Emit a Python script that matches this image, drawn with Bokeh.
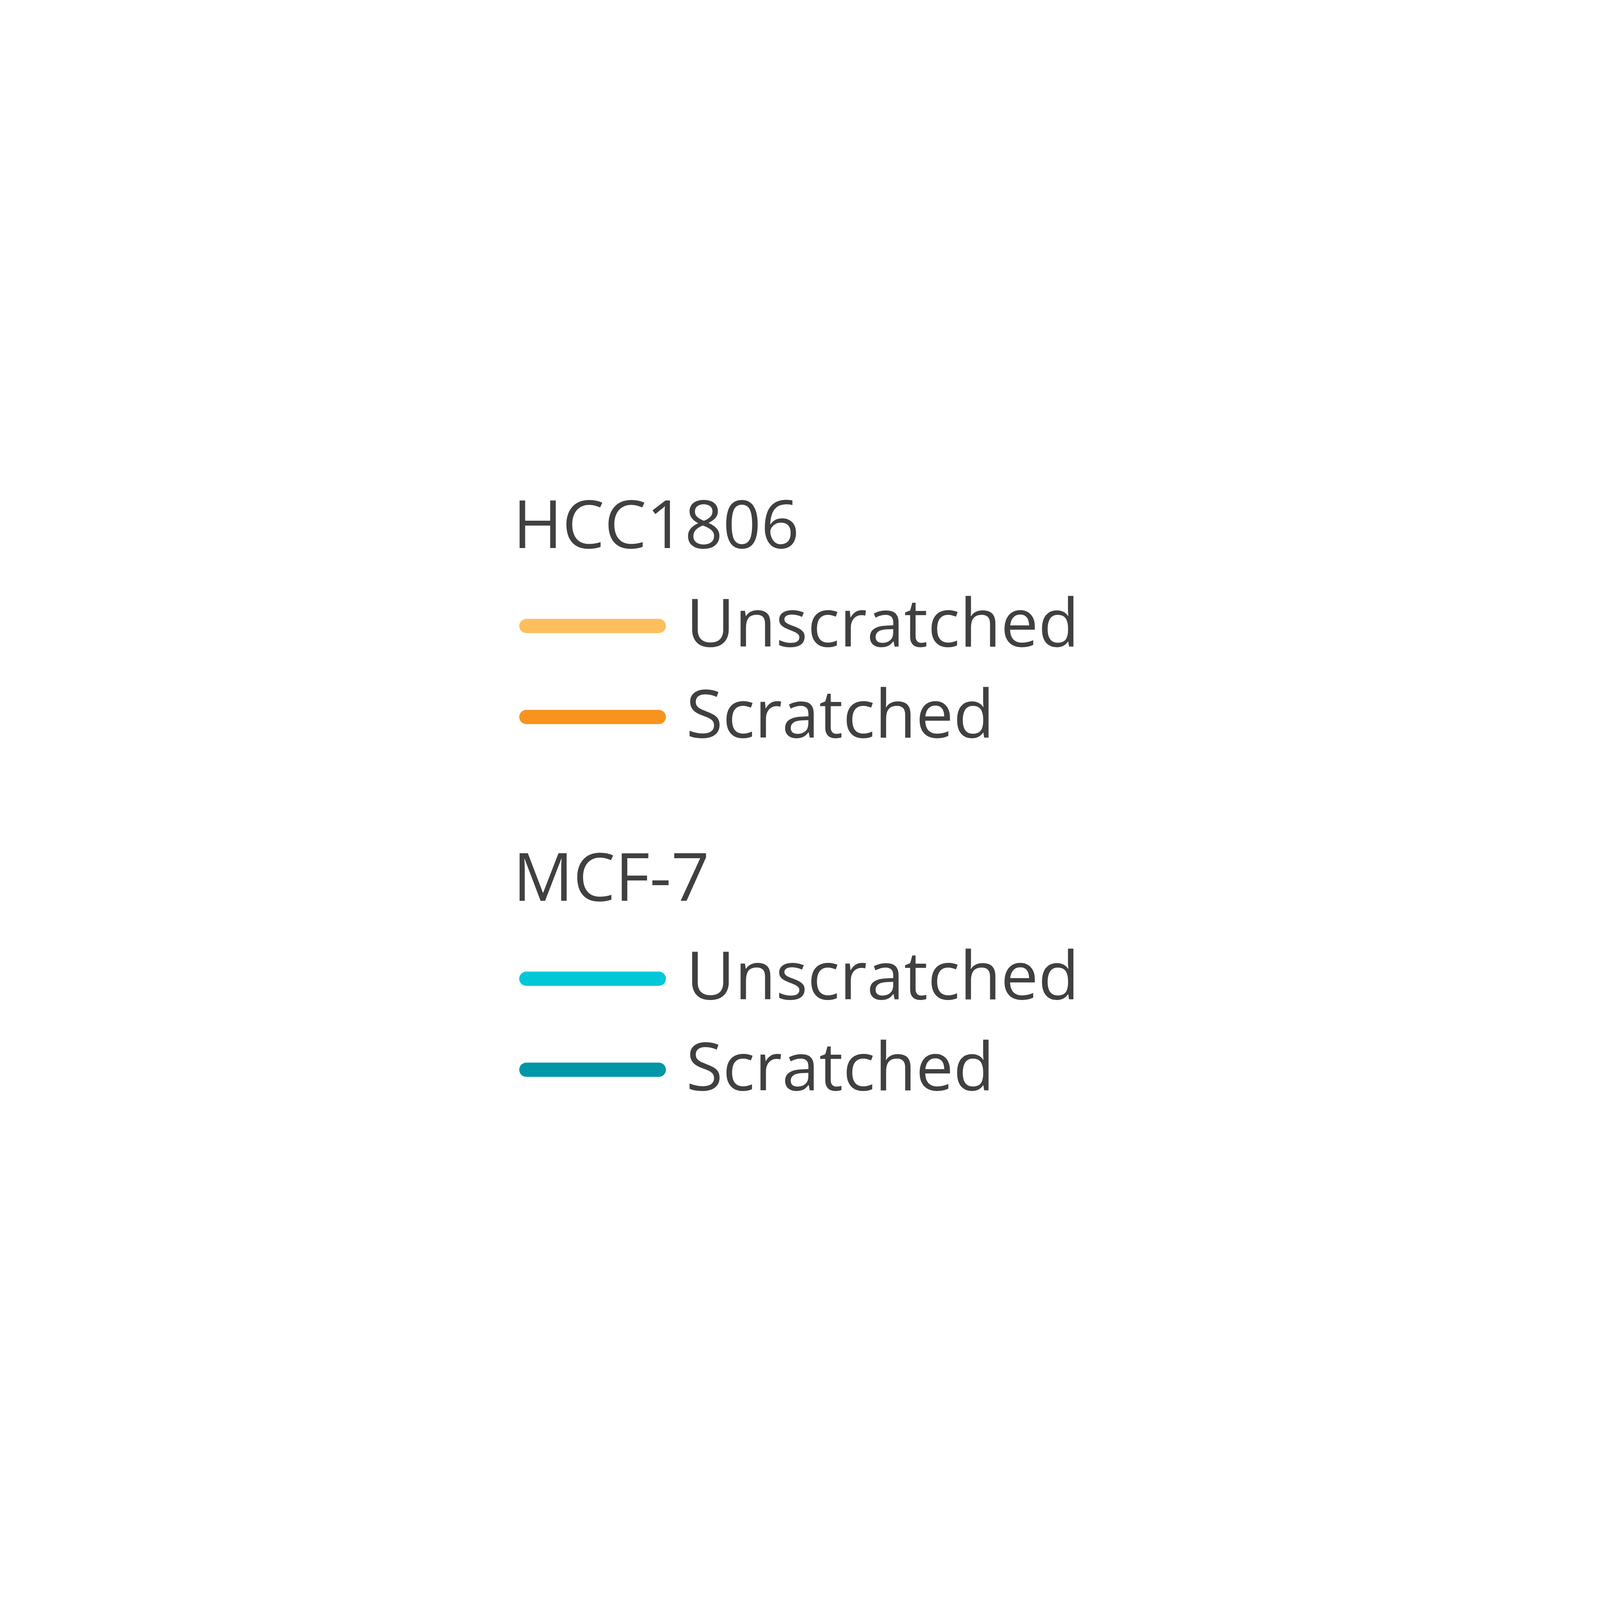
from bokeh.plotting import figure
from bokeh.models import Range1d, ColumnDataSource
from bokeh.core.properties import value
from bokeh.embed import file_html
from bokeh.resources import INLINE

# ---- data ----
groups = ["HCC1806", "MCF-7"]
conditions = ["Unscratched", "Scratched"]
group_colors = [["#FDBF5E", "#F8931F"], ["#00C8D6", "#0096A8"]]

# ---- layout (pixel units, y downward) ----
W = H = 4151
X0 = 1313            # left of titles
TITLE0 = 1401        # baseline of first group title
GROUP_GAP = 903      # between group title baselines
ROW0 = 201           # title baseline -> first line centre
ROW_GAP = 233        # between rows
LINE_LEN = 339
LINE_X0 = 1347
LINE_W = 36.5
TEXT_X = 1756
TEXT_DY = 51         # line centre -> label baseline
TEXT_FIX = -65       # renderer baseline correction
FONT = "Open Sans"
FS = "171px"
TXT_COLOR = "#404040"

p = figure(width=W, height=H, output_backend="svg", toolbar_location=None,
           x_range=Range1d(0, W), y_range=Range1d(H, 0), min_border=0)
p.axis.visible = False
p.grid.visible = False
p.outline_line_color = None
p.background_fill_color = "white"
p.border_fill_color = "white"

tx, ty, tt = [], [], []
sx0, sx1, sy, sc = [], [], [], []
lx, ly, lt = [], [], []
for gi, g in enumerate(groups):
    base = TITLE0 + gi * GROUP_GAP
    tx.append(X0); ty.append(base + TEXT_FIX); tt.append(g)
    for ci, c in enumerate(conditions):
        yc = base + ROW0 + ci * ROW_GAP
        sx0.append(LINE_X0); sx1.append(LINE_X0 + LINE_LEN); sy.append(yc)
        sc.append(group_colors[gi][ci])
        lx.append(TEXT_X); ly.append(yc + TEXT_DY + TEXT_FIX); lt.append(c)

p.segment(x0="x0", y0="y", x1="x1", y1="y", line_color="c", line_width=LINE_W,
          line_cap="round",
          source=ColumnDataSource(dict(x0=sx0, x1=sx1, y=sy, c=sc)))
p.text(x="x", y="y", text="t", text_font=value(FONT), text_font_size=value(FS),
       text_color=TXT_COLOR, text_baseline="alphabetic", text_align="left",
       source=ColumnDataSource(dict(x=tx, y=ty, t=tt)))
p.text(x="x", y="y", text="t", text_font=value(FONT), text_font_size=value(FS),
       text_color=TXT_COLOR, text_baseline="alphabetic", text_align="left",
       source=ColumnDataSource(dict(x=lx, y=ly, t=lt)))

open("out.html", "w").write(file_html(p, INLINE))
